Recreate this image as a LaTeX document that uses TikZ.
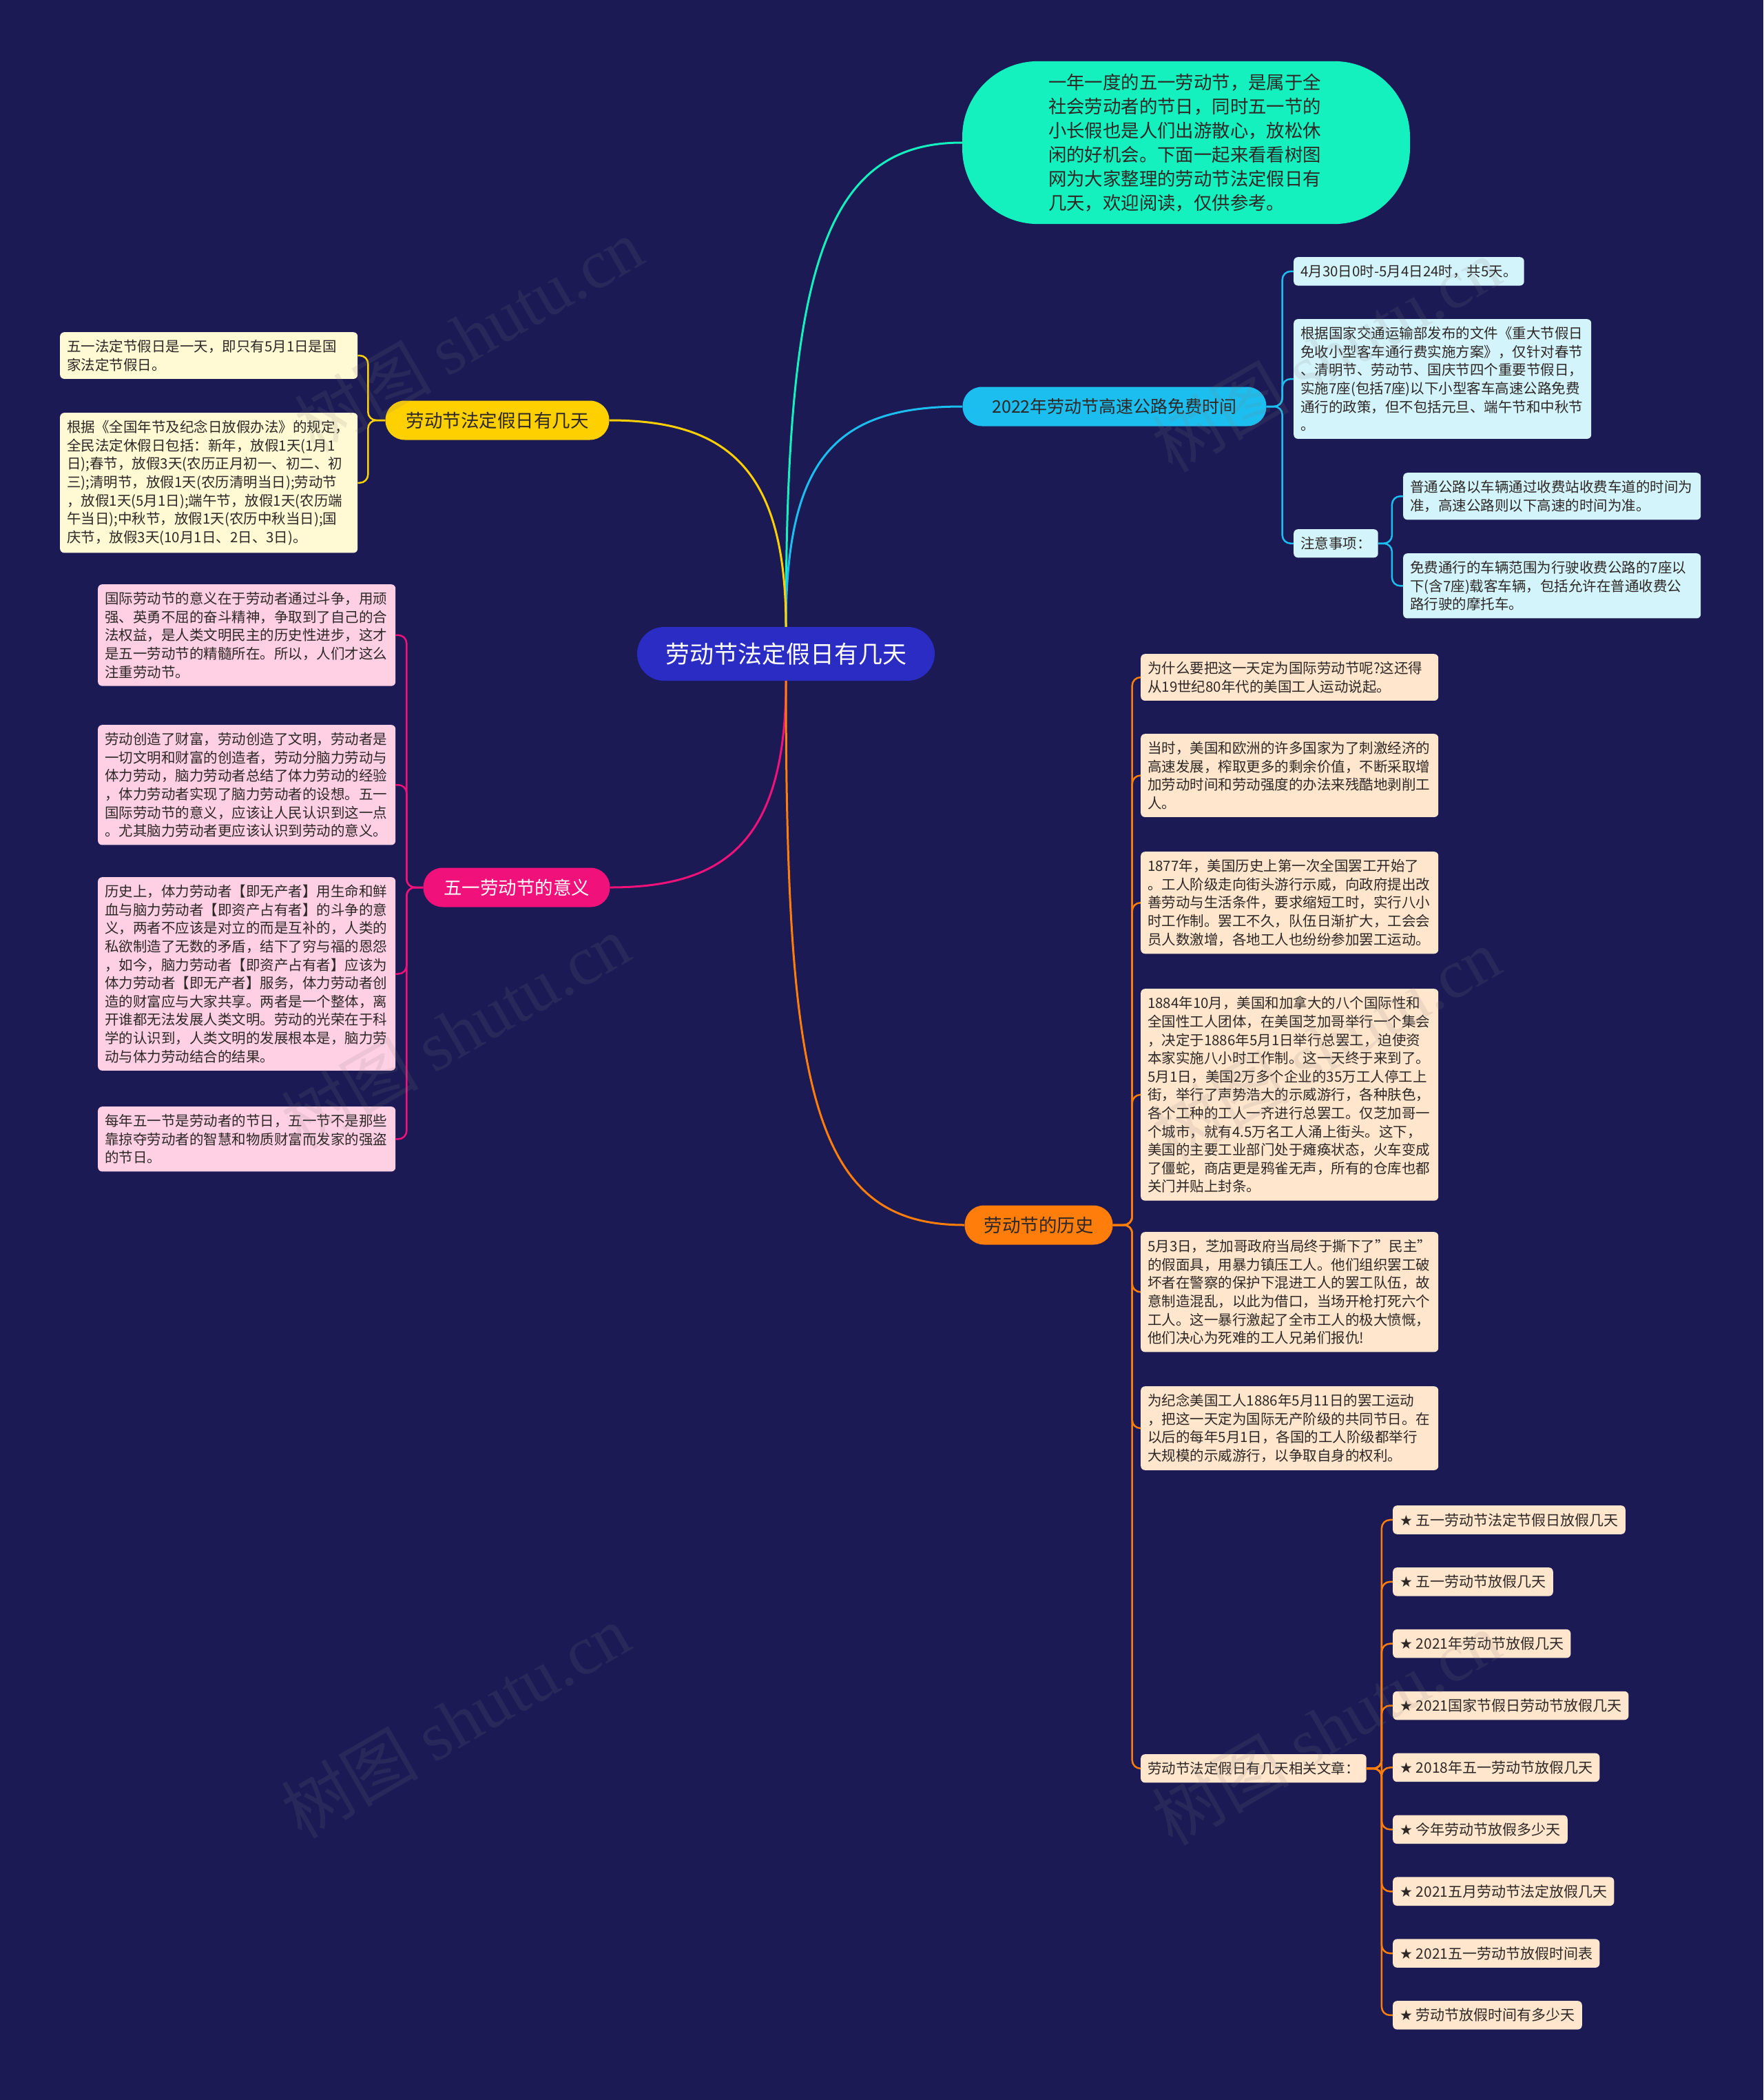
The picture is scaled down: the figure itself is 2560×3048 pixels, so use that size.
\documentclass[tikz,border=0pt]{standalone}
\usepackage{fontspec}
\setmainfont{Noto Sans CJK SC}[Ligatures=ResetAll]
\newfontfamily\starfont{DejaVu Sans}
\newfontfamily\wmfont{Liberation Serif}
\usepackage{xcolor}
\usepackage{tikz}
\usetikzlibrary{positioning}

\definecolor{bgnavy}{RGB}{27,26,84}
\definecolor{rootblue}{RGB}{42,44,196}
\definecolor{tealc}{RGB}{20,240,190}
\definecolor{cyanc}{RGB}{28,190,240}
\definecolor{cyansoft}{RGB}{212,244,252}
\definecolor{yellowc}{RGB}{255,208,0}
\definecolor{yellowsoft}{RGB}{255,249,212}
\definecolor{pinkc}{RGB}{240,18,122}
\definecolor{pinksoft}{RGB}{255,208,228}
\definecolor{orangec}{RGB}{255,125,10}
\definecolor{orangesoft}{RGB}{255,230,205}
\definecolor{ink}{RGB}{45,40,38}

\newcommand\artstar{{\starfont ★}\ }

\begin{document}
\begin{tikzpicture}[
  x=1pt, y=-1pt,
  base/.style={align=left, rounded corners=6pt, inner xsep=10pt, inner ysep=11pt, text=ink, font=\fontsize{20.5}{26.6}\selectfont},
  note/.style={base, text width=412pt, anchor=north west},
  tag/.style={base, anchor=north west},
  art/.style={tag, fill=orangesoft, font=\fontsize{21}{26}\selectfont},
  branch/.style={rounded corners=28pt, minimum height=57pt, text=ink, font=\fontsize{26.5}{30}\selectfont},
  hub/.style={fill=rootblue, text=white, rounded corners=39pt, minimum width=432pt, minimum height=78pt, font=\fontsize{35}{40}\selectfont},
  link/.style={line width=3pt},
  sub/.style={line width=2.5pt, rounded corners=12pt},
  wmark/.style={rotate=30, text=gray, text opacity=0.14, font=\fontsize{100}{100}\selectfont},
]
  % canvas
  \fill[bgnavy] (0,0) rectangle (2560,3048);
  \useasboundingbox (0,0) rectangle (2560,3048);

  % centre and main branches
  \node[hub] (root) at (1141,949) {劳动节法定假日有几天};
  \node[fill=tealc, text=ink, align=left, text width=400pt, inner xsep=125pt, inner ysep=18pt, rounded corners=110pt, font=\fontsize{26.4}{35}\selectfont] (intro) at (1722,207)
    {一年一度的五一劳动节，是属于全\\社会劳动者的节日，同时五一节的\\小长假也是人们出游散心，放松休\\闲的好机会。下面一起来看看树图\\网为大家整理的劳动节法定假日有\\几天，欢迎阅读，仅供参考。};
  \node[branch, fill=cyanc, minimum width=441pt, font=\fontsize{25}{30}\selectfont] (hwy) at (1618,590) {2022年劳动节高速公路免费时间};
  \node[branch, fill=yellowc, minimum width=325pt] (yel) at (722,610) {劳动节法定假日有几天};
  \node[branch, fill=pinkc, text=white, minimum width=271pt] (pnk) at (750,1288) {五一劳动节的意义};
  \node[branch, fill=orangec, minimum width=215pt] (org) at (1508,1778) {劳动节的历史};

  % highway free time
  \node[tag, fill=cyansoft] (c1) at (1878,373) {4月30日0时-5月4日24时，共5天。};
  \node[note, fill=cyansoft] (c2) at (1878,463)
    {根据国家交通运输部发布的文件《重大节假日\\免收小型客车通行费实施方案》，仅针对春节\\、清明节、劳动节、国庆节四个重要节假日，\\实施7座(包括7座)以下小型客车高速公路免费\\通行的政策，但不包括元旦、端午节和中秋节\\。};
  \node[tag, fill=cyansoft] (c3) at (1878,768) {注意事项：};
  \node[note, fill=cyansoft] (c3a) at (2037,686)
    {普通公路以车辆通过收费站收费车道的时间为\\准，高速公路则以下高速的时间为准。};
  \node[note, fill=cyansoft] (c3b) at (2037,803)
    {免费通行的车辆范围为行驶收费公路的7座以\\下(含7座)载客车辆，包括允许在普通收费公\\路行驶的摩托车。};

  % legal holiday
  \node[note, fill=yellowsoft] (y1) at (87,482)
    {五一法定节假日是一天，即只有5月1日是国\\家法定节假日。};
  \node[note, fill=yellowsoft] (y2) at (87,599)
    {根据《全国年节及纪念日放假办法》的规定，\\全民法定休假日包括：新年，放假1天(1月1\\日);春节，放假3天(农历正月初一、初二、初\\三);清明节，放假1天(农历清明当日);劳动节\\，放假1天(5月1日);端午节，放假1天(农历端\\午当日);中秋节，放假1天(农历中秋当日);国\\庆节，放假3天(10月1日、2日、3日)。};

  % meaning
  \node[note, fill=pinksoft] (p1) at (142,848)
    {国际劳动节的意义在于劳动者通过斗争，用顽\\强、英勇不屈的奋斗精神，争取到了自己的合\\法权益，是人类文明民主的历史性进步，这才\\是五一劳动节的精髓所在。所以，人们才这么\\注重劳动节。};
  \node[note, fill=pinksoft] (p2) at (142,1052)
    {劳动创造了财富，劳动创造了文明，劳动者是\\一切文明和财富的创造者，劳动分脑力劳动与\\体力劳动，脑力劳动者总结了体力劳动的经验\\，体力劳动者实现了脑力劳动者的设想。五一\\国际劳动节的意义，应该让人民认识到这一点\\。尤其脑力劳动者更应该认识到劳动的意义。};
  \node[note, fill=pinksoft] (p3) at (142,1273)
    {历史上，体力劳动者【即无产者】用生命和鲜\\血与脑力劳动者【即资产占有者】的斗争的意\\义，两者不应该是对立的而是互补的，人类的\\私欲制造了无数的矛盾，结下了穷与福的恩怨\\，如今，脑力劳动者【即资产占有者】应该为\\体力劳动者【即无产者】服务，体力劳动者创\\造的财富应与大家共享。两者是一个整体，离\\开谁都无法发展人类文明。劳动的光荣在于科\\学的认识到，人类文明的发展根本是，脑力劳\\动与体力劳动结合的结果。};
  \node[note, fill=pinksoft] (p4) at (142,1606)
    {每年五一节是劳动者的节日，五一节不是那些\\靠掠夺劳动者的智慧和物质财富而发家的强盗\\的节日。};

  % history
  \node[note, fill=orangesoft] (h1) at (1656,949)
    {为什么要把这一天定为国际劳动节呢?这还得\\从19世纪80年代的美国工人运动说起。};
  \node[note, fill=orangesoft] (h2) at (1656,1065)
    {当时，美国和欧洲的许多国家为了刺激经济的\\高速发展，榨取更多的剩余价值，不断采取增\\加劳动时间和劳动强度的办法来残酷地剥削工\\人。};
  \node[note, fill=orangesoft] (h3) at (1656,1236)
    {1877年，美国历史上第一次全国罢工开始了\\。工人阶级走向街头游行示威，向政府提出改\\善劳动与生活条件，要求缩短工时，实行八小\\时工作制。罢工不久，队伍日渐扩大，工会会\\员人数激增，各地工人也纷纷参加罢工运动。};
  \node[note, fill=orangesoft] (h4) at (1656,1435)
    {1884年10月，美国和加拿大的八个国际性和\\全国性工人团体，在美国芝加哥举行一个集会\\，决定于1886年5月1日举行总罢工，迫使资\\本家实施八小时工作制。这一天终于来到了。\\5月1日，美国2万多个企业的35万工人停工上\\街，举行了声势浩大的示威游行，各种肤色，\\各个工种的工人一齐进行总罢工。仅芝加哥一\\个城市，就有4.5万名工人涌上街头。这下，\\美国的主要工业部门处于瘫痪状态，火车变成\\了僵蛇，商店更是鸦雀无声，所有的仓库也都\\关门并贴上封条。};
  \node[note, fill=orangesoft] (h5) at (1656,1788)
    {5月3日，芝加哥政府当局终于撕下了"民主"\\的假面具，用暴力镇压工人。他们组织罢工破\\坏者在警察的保护下混进工人的罢工队伍，故\\意制造混乱，以此为借口，当场开枪打死六个\\工人。这一暴行激起了全市工人的极大愤慨，\\他们决心为死难的工人兄弟们报仇!};
  \node[note, fill=orangesoft] (h6) at (1656,2012)
    {为纪念美国工人1886年5月11日的罢工运动\\，把这一天定为国际无产阶级的共同节日。在\\以后的每年5月1日，各国的工人阶级都举行\\大规模的示威游行，以争取自身的权利。};
  \node[tag, fill=orangesoft] (h7) at (1656,2546) {劳动节法定假日有几天相关文章：};

  % related articles
  \node[art] (s1) at (2022,2185) {\artstar 五一劳动节法定节假日放假几天};
  \foreach \t [count=\i from 2] in {五一劳动节放假几天, 2021年劳动节放假几天, 2021国家节假日劳动节放假几天, 2018年五一劳动节放假几天, 今年劳动节放假多少天, 2021五月劳动节法定放假几天, 2021五一劳动节放假时间表, 劳动节放假时间有多少天}{
    \pgfmathtruncatemacro\j{\i-1}
    \node[art, below=48pt of s\j.south west, anchor=north west] (s\i) {\artstar\t};
  }

  % connectors
  \draw[link, draw=tealc] (root.north) .. controls +(0,-520) and +(-200,0) .. (intro.west);
  \draw[link, draw=cyanc] (root.north) .. controls +(0,-250) and +(-180,0) .. (hwy.west);
  \draw[link, draw=yellowc] (root.north) .. controls +(0,-230) and +(170,0) .. (yel.east);
  \draw[link, draw=pinkc] (root.south) .. controls +(0,230) and +(170,0) .. (pnk.east);
  \draw[link, draw=orangec] (root.south) .. controls +(0,600) and +(-220,0) .. (org.west);

  \foreach \c in {c1,c2,c3} \draw[sub, draw=cyanc] (hwy.east) -- ++(23,0) |- (\c.west);
  \foreach \c in {c3a,c3b} \draw[sub, draw=cyanc] (c3.east) -- ++(20,0) |- (\c.west);
  \foreach \c in {y1,y2} \draw[sub, draw=yellowc] (yel.west) -- ++(-25,0) |- (\c.east);
  \foreach \c in {p1,p2,p3,p4} \draw[sub, draw=pinkc] (pnk.west) -- ++(-24,0) |- (\c.east);
  \foreach \c in {h1,h2,h3,h4,h5,h6,h7} \draw[sub, draw=orangec] (org.east) -- ++(28,0) |- (\c.west);
  \foreach \i in {1,...,9} \draw[sub, draw=orangec] (h7.east) -- ++(22,0) |- (s\i.west);

  % watermark
  \foreach \wx/\wy [count=\i] in {680/486, 1925/515, 661/1497, 1925/1516, 661/2498, 1925/2508}
    \node[wmark] (wm\i) at (\wx,\wy) {树图 {\wmfont shutu.cn}};
\end{tikzpicture}
\end{document}
